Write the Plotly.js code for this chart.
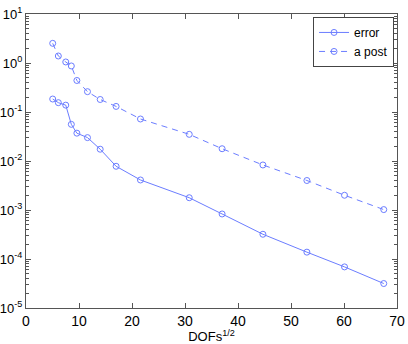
<!DOCTYPE html>
<html>
<head>
<meta charset="utf-8">
<script src="https://cdn.plot.ly/plotly-3.0.1.min.js"></script>
<style>
  html, body { margin: 0; padding: 0; background: #fff; }
  #plot { width: 408px; height: 344px; }
</style>
</head>
<body>
<div id="plot"></div>
<script>
// sqrt of degrees of freedom per refinement step
var dofs = [5.04, 6.1, 7.5, 8.55, 9.6, 11.6, 14.0, 17.0, 21.6, 30.8, 37.0, 44.7, 53.0, 60.1, 67.5];
var errVals = [0.184, 0.155, 0.138, 0.056, 0.037, 0.030, 0.0174, 0.0078, 0.0041, 0.00178, 0.00083, 0.00032, 0.000138, 0.000069, 0.0000316];
var postVals = [2.52, 1.39, 1.05, 0.87, 0.44, 0.26, 0.18, 0.13, 0.072, 0.035, 0.0178, 0.0083, 0.0040, 0.0020, 0.00102];

var yTickVals = [1e-5, 1e-4, 1e-3, 1e-2, 1e-1, 1, 10];
var yTickText = ['10<sup>-5</sup>', '10<sup>-4</sup>', '10<sup>-3</sup>', '10<sup>-2</sup>',
                 '10<sup>-1</sup>', '10<sup>0</sup>', '10<sup>1</sup>'];

// minor ticks 2..9 in every decade
var minorVals = [];
for (var k = -5; k < 1; k++) {
  for (var m = 2; m < 10; m++) minorVals.push(m * Math.pow(10, k));
}

var blue = '#6b7dff';

var traces = [
  {
    x: dofs, y: errVals, name: 'error',
    type: 'scatter', mode: 'lines+markers',
    line: { color: blue, width: 1 },
    marker: { symbol: 'circle-open', size: 6, color: blue, line: { width: 1 } }
  },
  {
    x: dofs, y: postVals, name: 'a post',
    type: 'scatter', mode: 'lines+markers',
    line: { color: blue, width: 1, dash: '6px,5px' },
    marker: { symbol: 'circle-open', size: 6, color: blue, line: { width: 1 } }
  }
];

var layout = {
  width: 408,
  height: 344,
  paper_bgcolor: '#fff',
  plot_bgcolor: '#fff',
  font: { family: 'Liberation Sans, Arial, sans-serif', size: 13, color: '#000' },
  margin: { l: 26, r: 11, t: 14, b: 36 },
  showlegend: true,
  legend: {
    x: 0.992, y: 0.99, xanchor: 'right', yanchor: 'top',
    bordercolor: '#444', borderwidth: 1, bgcolor: '#fff',
    font: { size: 12 },
    tracegroupgap: 0, itemwidth: 30
  },
  xaxis: {
    range: [0, 70],
    tickvals: [0, 10, 20, 30, 40, 50, 60, 70],
    tickfont: { size: 14 },
    ticks: 'inside', ticklen: 5, tickcolor: '#555',
    showline: true, linecolor: '#555', linewidth: 1, mirror: 'ticks',
    showgrid: false, zeroline: false,
    title: { text: 'DOFs<sup>1/2</sup>', standoff: 0, font: { size: 13 } }
  },
  yaxis: {
    type: 'log',
    range: [-5, 1],
    tickmode: 'array', tickvals: yTickVals, ticktext: yTickText,
    tickfont: { size: 13 },
    ticks: 'inside', ticklen: 5, tickcolor: '#555',
    showline: true, linecolor: '#555', linewidth: 1, mirror: 'ticks',
    showgrid: false, zeroline: false,
    minor: { tickmode: 'array', tickvals: minorVals, ticks: 'inside', ticklen: 3, tickcolor: '#555', showgrid: false }
  }
};

Plotly.newPlot('plot', traces, layout, { displayModeBar: false, staticPlot: true });
</script>
</body>
</html>
